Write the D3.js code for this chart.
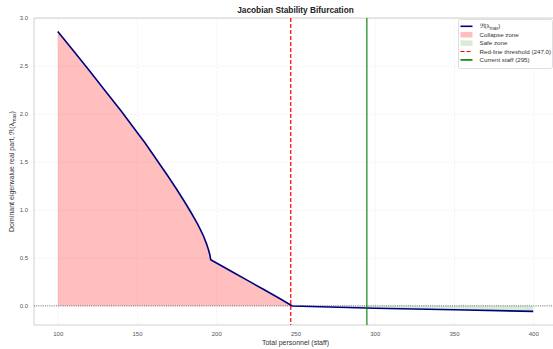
<!DOCTYPE html>
<html><head><meta charset="utf-8">
<script src="https://cdn.jsdelivr.net/npm/d3@7"></script>
<style>
body{margin:0;background:#fff;}
svg{font-family:"Liberation Sans",Arial,sans-serif;}
</style></head>
<body><svg id="c" width="553" height="349"></svg>
<script>
const staff = [100,110,120,130,140,150,155,160,165,170,175,180,184,188,190,192,194,195,196,196.5,210,220,230,240,248,260,300,350,400];
const eigen = [2.86,2.655,2.45,2.24,2.03,1.81,1.70,1.58,1.46,1.34,1.215,1.085,0.975,0.86,0.795,0.725,0.64,0.59,0.53,0.48,0.355,0.262,0.17,0.076,-0.002,-0.007,-0.025,-0.041,-0.058];
const xTicks = [100,150,200,250,300,350,400];
const yTicks = [0.0,0.5,1.0,1.5,2.0,2.5,3.0];
const threshold = 247.0;
const currentStaff = 295;
const legendLabels = ["Collapse zone","Safe zone","Red-line threshold (247.0)","Current staff (295)"];

const svg = d3.select("#c");
const L=34,R=557,T=18,B=325;
const x = d3.scaleLinear().domain([85,415]).range([L,R]);
const y = d3.scaleLinear().domain([-0.2,3.0]).range([B,T]);

svg.append("defs").append("clipPath").attr("id","clip")
  .append("rect").attr("x",L).attr("y",T).attr("width",R-L).attr("height",B-T);

// grid
const gx = svg.append("g").attr("transform",`translate(0,${B})`)
  .call(d3.axisBottom(x).tickValues(xTicks).tickSize(-(B-T)).tickFormat(d=>d));
const gy = svg.append("g").attr("transform",`translate(${L},0)`)
  .call(d3.axisLeft(y).tickValues(yTicks).tickSize(-(R-L)).tickFormat(d3.format(".1f")));
[gx,gy].forEach(g=>{
  g.select(".domain").remove();
  g.selectAll(".tick line").attr("stroke","#ebebeb").attr("stroke-width",0.6).attr("stroke-dasharray","2.5,1.5");
  g.selectAll(".tick text").attr("fill","#555").attr("font-size","6px").attr("font-family","Liberation Sans, Arial, sans-serif");
});
gx.selectAll(".tick text").attr("dy","0").attr("y",10.5);
gy.selectAll(".tick text").attr("x",-6).attr("dy","0.32em");

// spines
svg.append("line").attr("x1",L).attr("x2",L).attr("y1",T).attr("y2",B).attr("stroke","#d0d0d0").attr("stroke-width",1);
svg.append("line").attr("x1",L).attr("x2",R).attr("y1",B).attr("y2",B).attr("stroke","#d0d0d0").attr("stroke-width",1);
svg.append("line").attr("x1",L).attr("x2",R).attr("y1",T).attr("y2",T).attr("stroke","#d0d0d0").attr("stroke-width",1);

const pts = staff.map((s,i)=>({s,v:eigen[i]}));
const plot = svg.append("g").attr("clip-path","url(#clip)");

const area = d3.area().x(d=>x(d.s)).y0(y(0)).y1(d=>y(d.v));
plot.append("path").datum(pts.map(d=>({s:d.s,v:Math.max(d.v,0)})))
  .attr("d",area).attr("fill","rgba(255,0,0,0.25)");
plot.append("path").datum(pts.map(d=>({s:d.s,v:Math.min(d.v,0)})))
  .attr("d",area).attr("fill","rgba(0,128,0,0.15)");

plot.append("line").attr("x1",L).attr("x2",R).attr("y1",y(0)).attr("y2",y(0))
  .attr("stroke","#000").attr("stroke-opacity",0.6).attr("stroke-width",0.9).attr("stroke-dasharray","1,1.2");

plot.append("path").datum(pts).attr("d",d3.line().x(d=>x(d.s)).y(d=>y(d.v)))
  .attr("fill","none").attr("stroke","#000080").attr("stroke-width",1.6).attr("stroke-linejoin","round");

plot.append("line").attr("x1",x(threshold)).attr("x2",x(threshold)).attr("y1",T).attr("y2",B)
  .attr("stroke","#ff0000").attr("stroke-width",1.2).attr("stroke-dasharray","4,2");
plot.append("line").attr("x1",x(currentStaff)).attr("x2",x(currentStaff)).attr("y1",T).attr("y2",B)
  .attr("stroke","#008000").attr("stroke-opacity",0.7).attr("stroke-width",1.6);

svg.append("text").attr("x",(L+R)/2).attr("y",13).attr("text-anchor","middle")
  .attr("font-size","8.3px").attr("font-weight","bold").attr("fill","#222").text("Jacobian Stability Bifurcation");
svg.append("text").attr("x",(L+R)/2).attr("y",345).attr("text-anchor","middle")
  .attr("font-size","7px").attr("fill","#333").text("Total personnel (staff)");
const yl = svg.append("text").attr("transform",`translate(14,${(T+B)/2}) rotate(-90)`).attr("text-anchor","middle")
  .attr("font-size","7px").attr("fill","#333");
yl.append("tspan").text("Dominant eigenvalue real part, ℜ(λ");
yl.append("tspan").attr("font-size","5px").attr("dy",1.6).text("max");
yl.append("tspan").attr("dy",-1.6).text(")");

const lg = svg.append("g");
lg.append("rect").attr("x",458.5).attr("y",19.5).attr("width",94).attr("height",49).attr("rx",2)
  .attr("fill","#fff").attr("fill-opacity",0.85).attr("stroke","#d6d6d6").attr("stroke-width",0.8);
const rows = [26.3,34.7,43.1,51.5,59.9];
const hx1=460.5,hx2=472.5,tx=479.5;
lg.append("line").attr("x1",hx1).attr("x2",hx2).attr("y1",rows[0]).attr("y2",rows[0]).attr("stroke","#000080").attr("stroke-width",1.6);
lg.append("rect").attr("x",hx1).attr("y",rows[1]-2.8).attr("width",12).attr("height",5.6).attr("fill","rgba(255,0,0,0.25)");
lg.append("rect").attr("x",hx1).attr("y",rows[2]-2.8).attr("width",12).attr("height",5.6).attr("fill","rgba(0,128,0,0.15)");
lg.append("line").attr("x1",hx1).attr("x2",hx2).attr("y1",rows[3]).attr("y2",rows[3]).attr("stroke","#ff0000").attr("stroke-width",1.2).attr("stroke-dasharray","4,2");
lg.append("line").attr("x1",hx1).attr("x2",hx2).attr("y1",rows[4]).attr("y2",rows[4]).attr("stroke","#008000").attr("stroke-width",1.6);
const t0 = lg.append("text").attr("x",tx).attr("y",rows[0]+2.1).attr("font-size","6.2px").attr("fill","#333");
t0.append("tspan").text("ℜ(λ");
t0.append("tspan").attr("font-size","4.6px").attr("dy",1.4).text("max");
t0.append("tspan").attr("dy",-1.4).text(")");
legendLabels.forEach((t,i)=>{
  lg.append("text").attr("x",tx).attr("y",rows[i+1]+2.1).attr("font-size","6.2px").attr("fill","#333").text(t);
});
</script></body></html>
